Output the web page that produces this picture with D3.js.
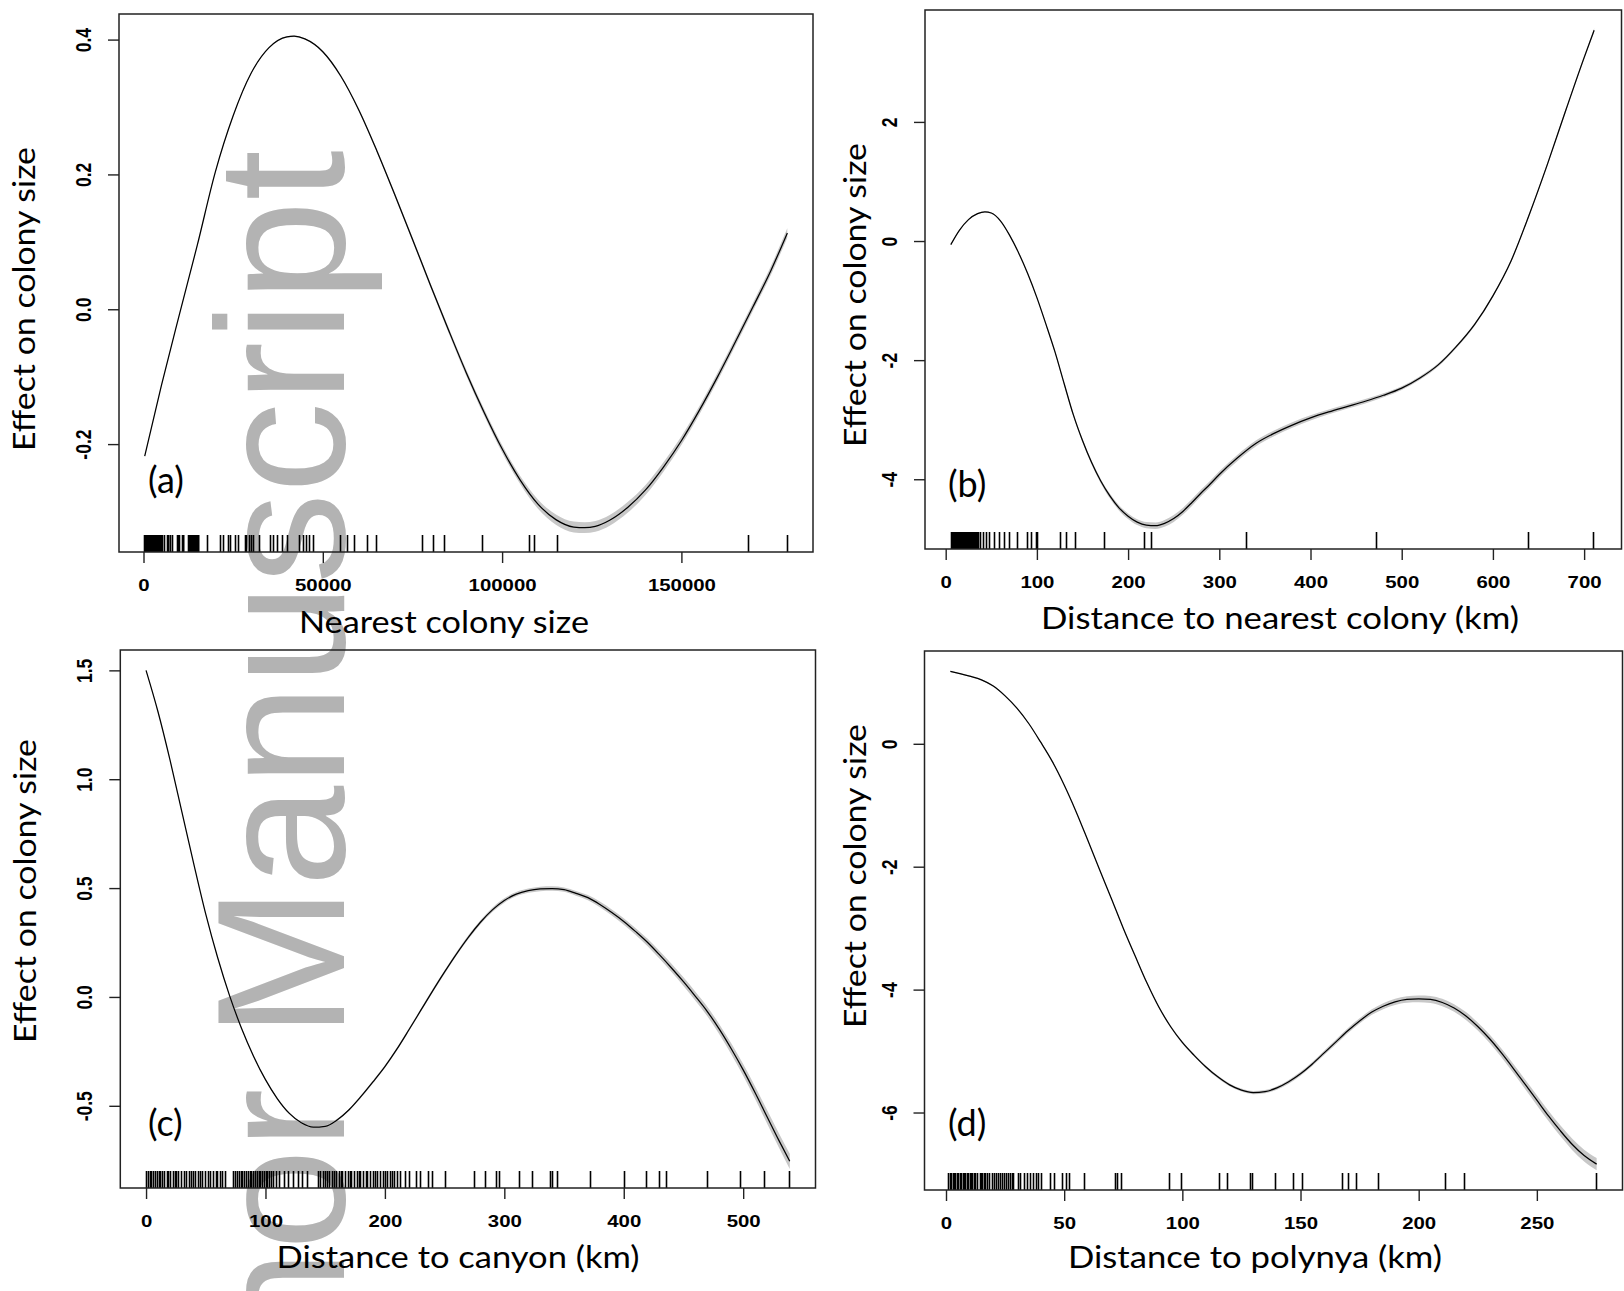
<!DOCTYPE html>
<html>
<head>
<meta charset="utf-8">
<script src="https://cdn.jsdelivr.net/npm/d3@7"></script>
<style>
  body { margin: 0; background: #fff; }
</style>
</head>
<body>
<svg></svg>
<script>
let width = 1624,
  height = 1291;

let svg = d3.select("svg").attr("width", width).attr("height", height);

// (a) nearest colony size
const aX = [335, 5000, 10000, 15000, 20000, 25000, 30000, 35000, 40000, 42000, 45000, 50000, 55000, 60000, 65000,
  70000, 75000, 80000, 85000, 90000, 95000, 100000, 105000, 110000, 115000, 120000, 123000, 126000, 130000,
  135000, 140000, 145000, 150000, 155000, 160000, 165000, 170000, 175000, 179530];
const aFit = [-0.218, -0.113, -0.008, 0.095, 0.203, 0.287, 0.350, 0.388, 0.404, 0.405, 0.401, 0.382, 0.346, 0.296, 0.236,
  0.171, 0.104, 0.036, -0.030, -0.094, -0.153, -0.207, -0.253, -0.289, -0.312, -0.323, -0.324, -0.322, -0.313,
  -0.294, -0.268, -0.234, -0.195, -0.150, -0.101, -0.049, 0.004, 0.058, 0.113];
const aBand = [0.001, 0.001, 0.001, 0.001, 0.001, 0.001, 0.001, 0.001, 0.001, 0.001, 0.001, 0.0015, 0.002, 0.002, 0.0025,
  0.003, 0.003, 0.0035, 0.004, 0.0045, 0.005, 0.0055, 0.006, 0.007, 0.0075, 0.008, 0.008, 0.008, 0.008,
  0.008, 0.0075, 0.007, 0.0065, 0.006, 0.006, 0.006, 0.006, 0.0065, 0.007];
const aRug = [200, 450, 700, 950, 1200, 1450, 1700, 1950, 2200, 2450, 2700, 2950, 3200, 3450, 3680,
  4130, 4350, 4580, 4800, 5250, 5800, 6460, 6700, 6920, 7390, 8040, 9260, 9500, 9750, 9990,
  10650, 10900, 11100, 12330, 12580, 12830, 13080, 13330, 13580, 13830, 14080, 14330, 14580, 14830, 15060, 15290,
  17800, 21340, 22260, 23650, 24130, 25520, 26440, 28310, 28640, 29300, 29900, 30500, 32300, 35400, 36000,
  37300, 38500, 40100, 43500, 44400, 45400, 46100, 47300, 54800, 56800, 58800, 62200, 64700,
  77700, 80800, 83700, 94500, 107600, 108900, 115300, 168600, 179500];
const aXExt = [335, 179530], aYExt = [-0.3305, 0.4084];
const aXTicks = [0, 50000, 100000, 150000], aXLabels = ["0", "50000", "100000", "150000"];
const aYTicks = [-0.2, 0.0, 0.2, 0.4], aYLabels = ["-0.2", "0.0", "0.2", "0.4"];

// (b) distance to nearest colony
const bX = [5.6, 15, 25, 35, 43, 50, 60, 70, 80, 90, 100, 110, 120, 130, 140, 150, 160, 170, 180, 190, 200,
  210, 220, 230, 240, 250, 260, 270, 280, 290, 300, 320, 340, 360, 380, 400, 420, 440, 460, 480, 500,
  520, 540, 560, 580, 600, 620, 640, 660, 680, 700, 711];
const bFit = [-0.06, 0.18, 0.36, 0.46, 0.49, 0.47, 0.34, 0.10, -0.20, -0.55, -0.95, -1.40, -1.87, -2.40, -2.92, -3.35,
  -3.72, -4.03, -4.28, -4.48, -4.62, -4.72, -4.77, -4.78, -4.74, -4.66, -4.54, -4.39, -4.23, -4.08, -3.92,
  -3.64, -3.40, -3.23, -3.09, -2.97, -2.87, -2.78, -2.69, -2.59, -2.47, -2.30, -2.08, -1.77, -1.40, -0.92,
  -0.33, 0.45, 1.30, 2.20, 3.08, 3.54];
const bBand = [0.01, 0.01, 0.01, 0.01, 0.01, 0.01, 0.01, 0.01, 0.012, 0.015, 0.018, 0.02, 0.022, 0.025, 0.028,
  0.03, 0.033, 0.036, 0.04, 0.043, 0.046, 0.05, 0.052, 0.054, 0.056, 0.058, 0.058, 0.058, 0.057, 0.056, 0.055,
  0.053, 0.05, 0.048, 0.045, 0.043, 0.04, 0.038, 0.036, 0.034, 0.032, 0.03, 0.028, 0.026, 0.025, 0.024,
  0.024, 0.025, 0.026, 0.028, 0.03, 0.032];
const bRug = [6, 6.7, 7.4, 8.1, 8.8, 9.5, 10.2, 10.9, 11.6, 12.3, 13, 13.7, 14.4, 15.1, 15.8, 16.5, 17.2, 17.9,
  18.6, 19.3, 20, 20.7, 21.4, 22.1, 22.8, 23.5, 24.2, 24.9, 25.6, 26.3, 27, 27.7, 28.4, 29.1, 29.8, 30.5,
  31.2, 31.9, 32.6, 33.3, 34, 34.7, 35.3, 37.7, 40.6, 44.1, 48, 52.9, 58.7, 63.6, 69.5, 78.3, 89.1, 93, 98.9, 100.3,
  124.8, 132.2, 142, 173.8, 217.8, 225.2, 328.9, 471.9, 638.8, 710.2];
const bXExt = [5.6, 712.7], bYExt = [-4.836, 3.544];
const bXTicks = [0, 100, 200, 300, 400, 500, 600, 700], bXLabels = ["0", "100", "200", "300", "400", "500", "600", "700"];
const bYTicks = [-4, -2, 0, 2], bYLabels = ["-4", "-2", "0", "2"];

// (c) distance to canyon
const cX = [0, 10, 20, 30, 40, 50, 60, 70, 80, 90, 100, 110, 120, 130, 140, 150, 160, 170, 180, 190, 200,
  210, 220, 230, 240, 250, 260, 270, 280, 290, 300, 310, 320, 330, 340, 350, 360, 370, 380, 390, 400,
  410, 420, 430, 440, 450, 460, 470, 480, 490, 500, 510, 520, 530, 539];
const cFit = [1.50, 1.31, 1.09, 0.85, 0.61, 0.38, 0.18, 0.005, -0.145, -0.272, -0.380, -0.468, -0.535, -0.578, -0.598,
  -0.594, -0.565, -0.518, -0.457, -0.390, -0.320, -0.240, -0.152, -0.062, 0.028, 0.115, 0.198, 0.275, 0.343,
  0.400, 0.443, 0.472, 0.488, 0.496, 0.498, 0.493, 0.476, 0.456, 0.425, 0.388, 0.347, 0.300, 0.250, 0.193,
  0.133, 0.070, 0.003, -0.067, -0.148, -0.238, -0.335, -0.440, -0.550, -0.660, -0.755];
const cBand = [0.003, 0.003, 0.003, 0.003, 0.003, 0.003, 0.003, 0.003, 0.003, 0.003, 0.003,
  0.004, 0.004, 0.004, 0.004, 0.005, 0.005, 0.005, 0.006, 0.006, 0.006, 0.007, 0.007, 0.007, 0.008, 0.008,
  0.008, 0.009, 0.009, 0.01, 0.01, 0.01, 0.01, 0.01, 0.01, 0.01, 0.011, 0.012, 0.013, 0.014, 0.015,
  0.016, 0.017, 0.018, 0.019, 0.02, 0.021, 0.022, 0.023, 0.025, 0.027, 0.029, 0.031, 0.033, 0.035];
const cRug = [0, 1.5, 3.0, 4.5, 6.0, 7.5, 9.0, 10.5, 12.0, 13.5, 14.9, 17.2, 18.7, 20.2, 22.4, 23.9, 25.4, 26.9,
  29.1, 31.4, 33.6, 35.9, 37.4, 39.6, 41.1, 43.3, 44.8, 47.1, 49.3, 51.6, 53.8, 56.1, 58.3, 59.8, 62.0, 63.5, 65.8,
  73.2, 74.7, 76.2, 77.7, 79.2, 80.7, 82.2, 83.7, 85.2, 86.7, 88.2, 89.7, 91.2, 92.7, 94.2, 95.7, 97.2, 98.7,
  100.1, 101.6, 103.1, 104.6, 106.1, 108.4, 111.4, 115.1, 118.8, 123.3, 127.1, 130.8, 134.5,
  144.2, 145.7, 148, 149.5, 151.7, 153.2, 155.5, 157, 159.2, 161.4, 162.9, 164.4, 166.7, 168.9, 170.4, 171.9,
  174.1, 176.4, 177.9, 179.4, 181.6, 183.9, 185.4, 187.6, 189.8, 191.3, 193.6, 195.8, 198.1, 200.3, 201.8,
  204, 206.3, 207.8, 210, 212.3, 216.7, 220.5, 226.1, 229.8, 236.2, 239.2, 250.4, 274.7, 284, 293.3, 295.2,
  312, 323.2, 338.2, 340.1, 343.8, 371.8, 399.9, 418.5, 429.7, 435.3, 470.1, 497, 517.6, 538.1];
const cXExt = [0, 539], cYExt = [-0.786, 1.502];
const cXTicks = [0, 100, 200, 300, 400, 500], cXLabels = ["0", "100", "200", "300", "400", "500"];
const cYTicks = [-0.5, 0.0, 0.5, 1.0, 1.5], cYLabels = ["-0.5", "0.0", "0.5", "1.0", "1.5"];

// (d) distance to polynya
const dX = [1.84, 5, 10, 15, 20, 25, 30, 35, 40, 45, 50, 55, 60, 65, 70, 75, 80, 85, 90, 95, 100,
  105, 110, 115, 120, 125, 130, 135, 140, 145, 150, 155, 160, 165, 170, 175, 180, 185, 190, 195, 200,
  205, 210, 215, 220, 225, 230, 235, 240, 245, 250, 255, 260, 265, 270, 275.3];
const dFit = [1.18, 1.15, 1.10, 1.04, 0.94, 0.78, 0.58, 0.33, 0.03, -0.29, -0.67, -1.10, -1.57, -2.05, -2.52, -3.00,
  -3.45, -3.89, -4.28, -4.60, -4.86, -5.07, -5.26, -5.42, -5.55, -5.635, -5.675, -5.66, -5.60, -5.50, -5.37,
  -5.21, -5.03, -4.85, -4.67, -4.51, -4.37, -4.27, -4.20, -4.16, -4.15, -4.16, -4.21, -4.30, -4.43, -4.60,
  -4.80, -5.03, -5.28, -5.54, -5.80, -6.06, -6.30, -6.52, -6.70, -6.84];
const dBand = [0.01, 0.01, 0.01, 0.01, 0.01, 0.01, 0.01, 0.01, 0.01, 0.012, 0.012, 0.012, 0.014, 0.014, 0.014,
  0.016, 0.016, 0.016, 0.018, 0.018, 0.02, 0.02, 0.022, 0.022, 0.024, 0.024, 0.026, 0.026, 0.028, 0.03,
  0.032, 0.034, 0.036, 0.038, 0.04, 0.042, 0.045, 0.048, 0.05, 0.052, 0.055, 0.057, 0.06, 0.062, 0.064,
  0.066, 0.068, 0.07, 0.073, 0.076, 0.08, 0.084, 0.088, 0.092, 0.096, 0.1];
const dRug = [1, 1.6, 2.2, 2.8, 3.4, 4, 4.6, 5.2, 5.8, 6.4, 7, 7.6, 8.2, 8.8, 9.4, 10, 10.6, 11.2, 11.8, 12.4, 13,
  14.2, 14.8, 15.4, 16, 16.6, 17.5, 18.4, 19.5, 20.3, 21, 22, 23, 23.8, 24.6, 25.4, 26.2, 27, 27.8, 28.4,
  30.3, 31.3, 32.8, 34.1, 35.4, 36.9, 37.9, 38.8, 40.2, 44.1, 45.5, 49.2, 50.6, 52.1, 58.3, 71.6, 72.5, 73.9,
  94.3, 99.4, 115.5, 118.8, 128.8, 129.4, 139.2, 146.8, 150.6, 167.6, 170.1, 173.3, 182.8, 211.2, 219.3, 275];
const dXExt = [1.84, 275.3], dYExt = [-6.936, 1.185];
const dXTicks = [0, 50, 100, 150, 200, 250], dXLabels = ["0", "50", "100", "150", "200", "250"];
const dYTicks = [-6, -4, -2, 0], dYLabels = ["-6", "-4", "-2", "0"];

const yTitle = "Effect on colony size";

const panels = [
  { tag: "(a)", box: [119, 14, 813, 552], xExt: aXExt, yExt: aYExt, x: aX, fit: aFit, band: aBand, rug: aRug,
    xTicks: aXTicks, xLabels: aXLabels, yTicks: aYTicks, yLabels: aYLabels,
    xTitle: "Nearest colony size", xTitlePos: [444, 633, 290], yTitlePos: [35, 299], tagPos: [148, 493] },
  { tag: "(b)", box: [925, 10, 1621.5, 549], xExt: bXExt, yExt: bYExt, x: bX, fit: bFit, band: bBand, rug: bRug,
    xTicks: bXTicks, xLabels: bXLabels, yTicks: bYTicks, yLabels: bYLabels,
    xTitle: "Distance to nearest colony (km)", xTitlePos: [1280, 629, 478], yTitlePos: [866, 295], tagPos: [948, 497] },
  { tag: "(c)", box: [120.3, 650, 815.5, 1188], xExt: cXExt, yExt: cYExt, x: cX, fit: cFit, band: cBand, rug: cRug,
    xTicks: cXTicks, xLabels: cXLabels, yTicks: cYTicks, yLabels: cYLabels,
    xTitle: "Distance to canyon (km)", xTitlePos: [458, 1268, 363], yTitlePos: [36, 891], tagPos: [148, 1136] },
  { tag: "(d)", box: [924.5, 651, 1622.5, 1190], xExt: dXExt, yExt: dYExt, x: dX, fit: dFit, band: dBand, rug: dRug,
    xTicks: dXTicks, xLabels: dXLabels, yTicks: dYTicks, yLabels: dYLabels,
    xTitle: "Distance to polynya (km)", xTitlePos: [1255, 1268, 374], yTitlePos: [866, 876], tagPos: [948, 1136] }
];

svg.append("rect").attr("width", width).attr("height", height).attr("fill", "#fff");

// watermark sits under the plots, running off the bottom edge like the original
svg.append("text")
  .attr("transform", "translate(344,150) rotate(-90)")
  .attr("text-anchor", "end")
  .attr("font-family", "Liberation Sans, Arial, sans-serif")
  .attr("font-size", 181.6)
  .attr("fill", "#b3b3b3")
  .text("Author Manuscript");

const tickFont = "Liberation Sans, Arial, sans-serif";
const titleFont = "Lato, 'Open Sans', sans-serif";

function drawPanel(p) {
  const [x0, y0, x1, y1] = p.box;
  const xr = p.xExt[1] - p.xExt[0], yr = p.yExt[1] - p.yExt[0];
  const x = d3.scaleLinear().domain([p.xExt[0] - 0.04 * xr, p.xExt[1] + 0.04 * xr]).range([x0, x1]);
  const y = d3.scaleLinear().domain([p.yExt[0] - 0.04 * yr, p.yExt[1] + 0.04 * yr]).range([y1, y0]);

  const rows = p.x.map((v, i) => ({ x: v, f: p.fit[i], b: p.band[i] || 0 }));
  const g = svg.append("g");

  // confidence band
  g.append("path")
    .datum(rows)
    .attr("d", d3.area().x(d => x(d.x)).y0(d => y(d.f - d.b)).y1(d => y(d.f + d.b)).curve(d3.curveMonotoneX))
    .attr("fill", "#c8c8c8");

  // fitted smooth
  g.append("path")
    .datum(rows)
    .attr("d", d3.line().x(d => x(d.x)).y(d => y(d.f)).curve(d3.curveMonotoneX))
    .attr("fill", "none")
    .attr("stroke", "#000")
    .attr("stroke-width", 1.25);

  // rug
  g.append("g")
    .selectAll("line")
    .data(p.rug)
    .join("line")
    .attr("x1", d => Math.round(x(d)) + 0.5).attr("x2", d => Math.round(x(d)) + 0.5)
    .attr("y1", y1).attr("y2", y1 - 17)
    .attr("stroke", "#000")
    .attr("stroke-width", 1.6);

  // frame
  g.append("rect")
    .attr("x", x0).attr("y", y0)
    .attr("width", x1 - x0).attr("height", y1 - y0)
    .attr("fill", "none")
    .attr("stroke", "#222")
    .attr("stroke-width", 1.5);

  // x axis
  const xa = g.append("g")
    .attr("transform", `translate(0,${y1})`)
    .call(d3.axisBottom(x).tickValues(p.xTicks).tickFormat((d, i) => p.xLabels[i]).tickSize(11).tickSizeOuter(0));
  xa.select(".domain").remove();
  xa.selectAll("line").attr("stroke", "#222").attr("stroke-width", 1.4);
  xa.selectAll("text")
    .attr("y", null).attr("dy", null)
    .attr("transform", "translate(0,39) scale(1.2,1)")
    .attr("fill", "#000")
    .attr("font-family", tickFont)
    .attr("font-weight", "bold")
    .attr("font-size", 17);

  // y axis
  const ya = g.append("g")
    .attr("transform", `translate(${x0},0)`)
    .call(d3.axisLeft(y).tickValues(p.yTicks).tickFormat((d, i) => p.yLabels[i]).tickSize(11).tickSizeOuter(0));
  ya.select(".domain").remove();
  ya.selectAll("line").attr("stroke", "#222").attr("stroke-width", 1.4);
  ya.selectAll("text")
    .attr("x", null).attr("dy", null)
    .attr("text-anchor", "middle")
    .attr("transform", "translate(-28,0) scale(1.3,1) rotate(-90)")
    .attr("fill", "#000")
    .attr("font-family", tickFont)
    .attr("font-weight", "bold")
    .attr("font-size", 17.5);

  // titles
  g.append("text")
    .attr("x", p.xTitlePos[0]).attr("y", p.xTitlePos[1])
    .attr("text-anchor", "middle")
    .attr("font-family", titleFont)
    .attr("font-size", 31)
    .attr("textLength", p.xTitlePos[2])
    .attr("lengthAdjust", "spacingAndGlyphs")
    .text(p.xTitle);

  g.append("text")
    .attr("transform", `translate(${p.yTitlePos[0]},${p.yTitlePos[1]}) rotate(-90)`)
    .attr("text-anchor", "middle")
    .attr("font-family", titleFont)
    .attr("font-size", 31)
    .attr("textLength", 304)
    .attr("lengthAdjust", "spacingAndGlyphs")
    .text(yTitle);

  g.append("text")
    .attr("x", p.tagPos[0]).attr("y", p.tagPos[1])
    .attr("font-family", titleFont)
    .attr("font-size", 36)
    .text(p.tag);
}

panels.forEach(drawPanel);
</script>
</body>
</html>
